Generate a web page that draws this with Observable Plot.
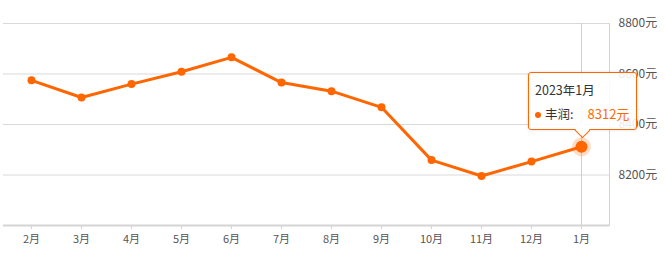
<!DOCTYPE html>
<html>
<head>
<meta charset="utf-8">
<script src="https://cdn.jsdelivr.net/npm/d3@7"></script>
<script src="https://cdn.jsdelivr.net/npm/@observablehq/plot@0.6"></script>
<style>
  html, body { margin: 0; padding: 0; background: #fff; }
  #wrap { position: relative; width: 666px; height: 257px; font-family: "Noto Sans CJK SC", "Noto Sans", sans-serif; }
  .tip { position: absolute; box-sizing: border-box; width: 109px; height: 58px; background: rgba(255,255,255,0.88);
         border: 1px solid #ff6600; border-radius: 3px; box-shadow: 0 0 3px rgba(0,0,0,0.15); color: #333; font-size: 12.5px; }
  .tip .t1 { position: absolute; left: 6px; top: 7px; }
  .tip .t2 { position: absolute; left: 6px; top: 31px; white-space: nowrap; }
  .tip .dot { display: inline-block; width: 6px; height: 6px; border-radius: 50%; background: #ff6600; margin-right: 4px; vertical-align: 1px; }
  .tip .val { color: #ff6a00; margin-left: 14px; font-size: 13px; }
  .tip .arrow { position: absolute; left: 50%; bottom: -7px; width: 10px; height: 10px; margin-left: -6px;
                background: #fff; border-right: 1px solid #ff6600; border-bottom: 1px solid #ff6600; transform: rotate(45deg); }
</style>
</head>
<body>
<div id="wrap"></div>
<script>
const months = ["2月","3月","4月","5月","6月","7月","8月","9月","10月","11月","12月","1月"];
const prices = [8575, 8507, 8560, 8609, 8666, 8566, 8532, 8468, 8259, 8196, 8253, 8312];
const yTicks = [8200, 8400, 8600, 8800];
const seriesName = "丰润";
const tipTitle = "2023年1月";
const unit = "元";
const highlight = "1月";

const data = months.map((m, i) => ({month: m, price: prices[i]}));
const last = data.filter(d => d.month === highlight);
const orange = "#ff6600";

const chart = Plot.plot({
  width: 666,
  height: 257,
  marginLeft: 3,
  marginRight: 57,
  marginTop: 23,
  marginBottom: 32,
  style: {fontFamily: '"Noto Sans CJK SC", "Noto Sans", sans-serif', background: "#fff"},
  x: {type: "point", domain: months, padding: 0.5, label: null},
  y: {domain: [8000, 8800], label: null},
  marks: [
    Plot.gridY(yTicks, {stroke: "#d9d9d9", strokeOpacity: 1, strokeWidth: 1}),
    Plot.ruleX([highlight], {y1: 8000, y2: 8800, stroke: "#cfcfcf", strokeWidth: 1}),
    Plot.frame({anchor: "right", stroke: "#d4d4d4"}),
    Plot.ruleY([8000], {stroke: "#d4d4d4", strokeWidth: 2}),
    Plot.axisX({tickSize: 4, tickPadding: 6, stroke: "#d4d4d4", color: "#555", fontSize: 11, label: null}),
    Plot.axisY(yTicks, {anchor: "right", tickSize: 0, tickPadding: 9, tickFormat: d => d + unit, color: "#555", fontSize: 12, label: null}),
    Plot.line(data, {x: "month", y: "price", stroke: orange, strokeWidth: 3}),
    Plot.dot(data, {x: "month", y: "price", r: 4, fill: orange}),
    Plot.dot(last, {x: "month", y: "price", r: 9.5, fill: orange, fillOpacity: 0.22}),
    Plot.dot(last, {x: "month", y: "price", r: 6, fill: orange})
  ]
});

const wrap = document.getElementById("wrap");
wrap.appendChild(chart);

const px = chart.scale("x").apply(highlight);
const py = chart.scale("y").apply(last[0].price);
const tip = document.createElement("div");
tip.className = "tip";
tip.style.left = (px - 53) + "px";
tip.style.top = (py - 74) + "px";
tip.innerHTML = `<div class="t1"></div><div class="t2"><span class="dot"></span><span class="nm"></span><span class="val"></span></div><div class="arrow"></div>`;
tip.querySelector(".t1").textContent = tipTitle;
tip.querySelector(".nm").textContent = seriesName + ":";
tip.querySelector(".val").textContent = last[0].price + unit;
wrap.appendChild(tip);
</script>
</body>
</html>
